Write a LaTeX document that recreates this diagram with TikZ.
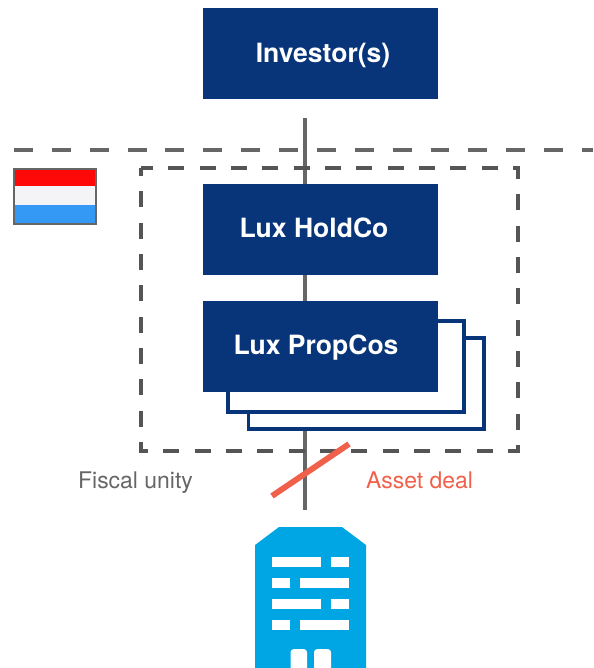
\documentclass[tikz,border=0pt]{standalone}
\usepackage{fontspec}
\setmainfont{TeX Gyre Heros}
\definecolor{navy}{HTML}{08347A}
\definecolor{dashgray}{HTML}{555555}
\definecolor{linegray}{HTML}{666666}
\definecolor{skyblue}{HTML}{00A5E3}
\definecolor{dealred}{HTML}{F0604B}
\definecolor{flagred}{HTML}{FF0808}
\definecolor{flagwhite}{HTML}{F4F4F6}
\definecolor{flagblue}{HTML}{3399F5}
\tikzset{
  x=0.75pt,y=-0.75pt,
  entity/.style={fill=navy,draw=none,minimum width=176.25pt,minimum height=68.25pt,inner sep=0pt,anchor=north west},
  entitytext/.style={text=white,font=\bfseries\fontsize{19.9}{22}\selectfont,inner sep=0pt,anchor=base},
  backbox/.style={fill=white,draw=navy,line width=2.32pt},
  boundary/.style={draw=dashgray,line width=2.3pt,dash pattern=on 12pt off 11.5pt,dash phase=6pt},
  border/.style={draw=linegray,line width=2.3pt,dash pattern=on 14.2pt off 14.2pt},
  link/.style={draw=linegray,line width=2.3pt},
  note/.style={font=\fontsize{17.2}{20}\selectfont,inner sep=0pt,anchor=base},
  win/.style={fill=white,draw=none},
}
\begin{document}
\begin{tikzpicture}
\useasboundingbox (0,0) rectangle (593,668);
\coordinate (linetop) at (305,118);
\coordinate (linebot) at (305,510);
\coordinate (borderL) at (14,150);
\coordinate (borderR) at (593,150);
\coordinate (cutA) at (272,496);
\coordinate (cutB) at (349,444);
% border
\draw[border] (borderL) -- (borderR);
% main line
\draw[link] (linetop) -- (linebot);
% fiscal unity box
\draw[boundary] (141,168) rectangle (518,451);
% stacked boxes
\draw[backbox] (248.5,338) rectangle (484,429);
\draw[backbox] (228,321) rectangle (464,412);
\node[entity] (inv) at (203,8) {};
\node[entity] (hold) at (203,184) {};
\node[entity] (prop) at (203,301) {};
\node[entitytext] (invt) at (323,62) {Investor(s)};
\node[entitytext] (holdt) at (314,237) {Lux HoldCo};
\node[entitytext] (propt) at (316,354) {Lux PropCos};
% flag
\fill[flagred] (14,169) rectangle (96,186);
\fill[flagwhite] (14,186) rectangle (96,205);
\fill[flagblue] (14,205) rectangle (96,224);
\draw[linegray,line width=0.8pt] (14,169) rectangle (96,224);
% cut
\draw[dealred,line width=4.4pt] (cutA) -- (cutB);
\node[note,text=linegray] (fiscal) at (135.5,488.5) {Fiscal unity};
\node[note,text=dealred] (deal) at (419.5,488.5) {Asset deal};
% building
\fill[skyblue] (255,668) -- (255,545) -- (279,527) -- (342,527) -- (366,545) -- (366,668) -- cycle;
\foreach \y in {557,599}{
  \fill[win] (272,\y) rectangle (321,\y+10);
  \fill[win] (331,\y) rectangle (349,\y+10);
}
\foreach \y in {578,620}{
  \fill[win] (272,\y) rectangle (290,\y+10);
  \fill[win] (300,\y) rectangle (349,\y+10);
}
\fill[win,rounded corners=2.5pt] (290.5,675) -- (290.5,649) -- (307,649) -- (307,675) -- cycle;
\fill[win,rounded corners=2.5pt] (314,675) -- (314,649) -- (331,649) -- (331,675) -- cycle;
\end{tikzpicture}
\end{document}
